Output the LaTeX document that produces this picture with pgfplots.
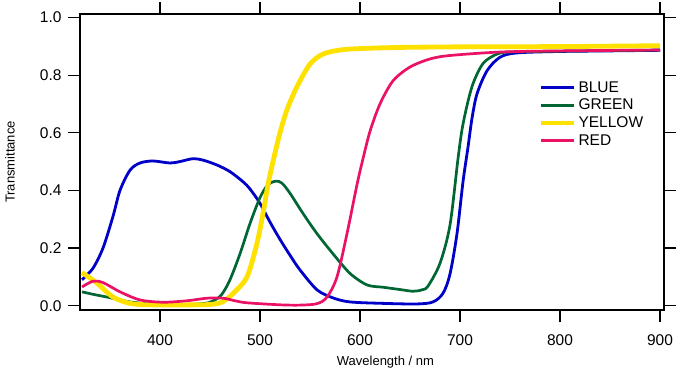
\documentclass[border=0pt]{standalone}
\usepackage{pgfplots}
\pgfplotsset{compat=1.18}
\usepackage{fontspec}
\setmainfont{Liberation Sans}
\definecolor{cblue}{RGB}{0,0,200}
\definecolor{cgreen}{RGB}{0,102,51}
\definecolor{cyellow}{RGB}{255,225,0}
\definecolor{cred}{RGB}{235,17,100}
\begin{document}
\begin{tikzpicture}
\useasboundingbox (-80pt,-59pt) rectangle (620pt,310pt);
\begin{axis}[
  at={(0pt,0pt)}, anchor=south west,
  scale only axis, width=584pt, height=296pt,
  xmin=320, xmax=904, ymin=-0.015, ymax=1.012,
  xtick={400,500,600,700,800,900},
  ytick={0,0.2,0.4,0.6,0.8,1.0},
  tick align=outside, tick pos=both,
  xticklabel pos=lower, yticklabel pos=left,
  major tick length=12pt,
  every tick/.style={black, line width=1.1pt},
  axis line style={line width=1.1pt},
  /pgf/number format/assume math mode=true,
  yticklabel style={/pgf/number format/.cd, fixed, fixed zerofill, precision=1, /tikz/.cd, xshift=-3pt},
  xticklabel style={/pgf/number format/.cd, set thousands separator={}, /tikz/.cd, yshift=-9pt},
  tick label style={font=\fontsize{15.5}{18}\selectfont},
  label style={font=\fontsize{13}{16}\selectfont},
  xlabel={Wavelength / nm},
  ylabel={Transmittance},
  xlabel style={at={(axis description cs:0.523,-0.177)}, anchor=center},
  ylabel style={at={(axis description cs:-0.12,0.5)}, anchor=center, rotate=0},
  legend style={draw=none, fill=none, at={(axis description cs:0.78,0.7865)}, anchor=north west,
    font=\fontsize{15.5}{17}\selectfont, row sep=1.5pt},
  legend cell align=left,
  legend image code/.code={\draw[#1, line cap=butt] (0pt,0pt) -- (33pt,0pt);},
]
\addlegendimage{cblue, line width=3pt}
\addlegendimage{cgreen, line width=2.7pt}
\addlegendimage{cyellow, line width=4.8pt}
\addlegendimage{cred, line width=2.7pt}
\legend{BLUE,GREEN,YELLOW,RED}
\addplot[cblue, line width=2.8pt, smooth, forget plot] coordinates {
(322,0.09) (333,0.13) (343,0.20) (353,0.31) (360,0.40) (370,0.47) (380,0.495) (393,0.502)
(410,0.495) (420,0.500) (433,0.51) (443,0.505) (457,0.488) (470,0.465) (483,0.43) (490,0.405)
(500,0.355) (510,0.29) (520,0.23) (530,0.175) (540,0.124) (557,0.055) (573,0.027) (590,0.013)
(623,0.008) (657,0.006) (673,0.013) (683,0.043) (690,0.11) (697,0.25) (703,0.43) (708,0.55)
(712,0.65) (717,0.735) (727,0.815) (740,0.862) (757,0.877) (800,0.882) (850,0.884) (900,0.886)};
\addplot[cgreen, line width=2.7pt, smooth, forget plot] coordinates {
(322,0.048) (335,0.038) (347,0.03) (360,0.02) (370,0.013) (390,0.006) (420,0.004) (445,0.008)
(455,0.02) (462,0.04) (470,0.09) (480,0.18) (490,0.285) (500,0.375) (508,0.42) (516,0.432)
(522,0.425) (530,0.39) (543,0.32) (557,0.25) (573,0.18) (590,0.112) (607,0.072) (623,0.064)
(640,0.056) (653,0.05) (662,0.055) (668,0.068) (680,0.147) (690,0.28) (698,0.51) (703,0.63)
(712,0.76) (723,0.84) (737,0.873) (750,0.88) (800,0.883) (900,0.887)};
\addplot[cyellow, line width=4.8pt, smooth, forget plot] coordinates {
(322,0.115) (337,0.078) (353,0.03) (370,0.008) (390,0.003) (440,0.003) (455,0.006) (463,0.014)
(473,0.042) (487,0.10) (497,0.217) (503,0.32) (508,0.42) (513,0.50) (520,0.60) (527,0.68)
(537,0.76) (550,0.838) (563,0.873) (580,0.887) (600,0.892) (640,0.896) (700,0.898) (800,0.899)
(900,0.902)};
\addplot[cred, line width=2.7pt, smooth, forget plot] coordinates {
(322,0.065) (333,0.085) (343,0.08) (360,0.048) (380,0.02) (403,0.012) (427,0.017) (447,0.026)
(463,0.026) (475,0.017) (487,0.01) (520,0.003) (540,0.002) (557,0.007) (567,0.03) (577,0.10)
(587,0.25) (597,0.42) (603,0.51) (610,0.605) (620,0.70) (633,0.78) (650,0.828) (670,0.856)
(690,0.868) (740,0.88) (800,0.884) (900,0.887)};
\end{axis}
\end{tikzpicture}
\end{document}
